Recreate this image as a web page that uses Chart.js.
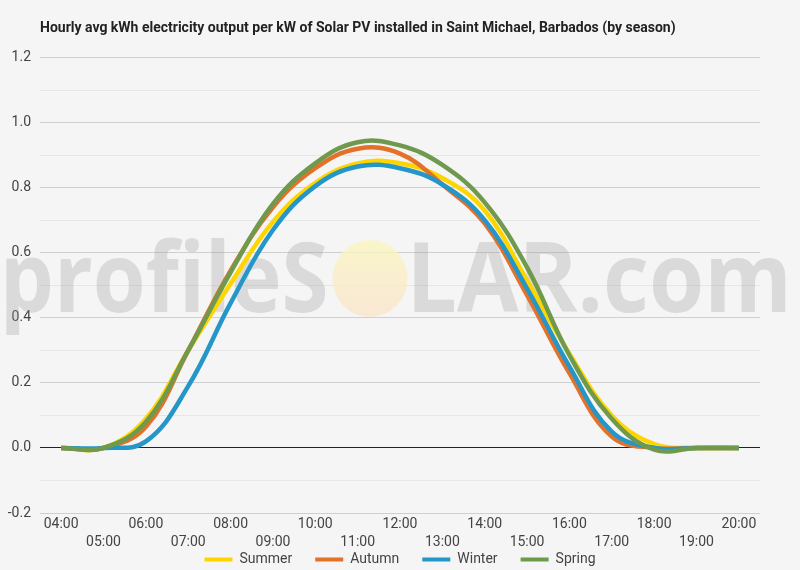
<!DOCTYPE html>
<html>
<head>
<meta charset="utf-8">
<script src="https://cdn.jsdelivr.net/npm/chart.js@4.4.1/dist/chart.umd.min.js"></script>
<style>
  html, body { margin: 0; padding: 0; background: #f5f5f5; }
  #wrap { width: 800px; height: 570px; position: relative; }
</style>
</head>
<body>
<div id="wrap"><canvas id="chart"></canvas></div>
<script>
const titleText = 'Hourly avg kWh electricity output per kW of Solar PV installed in Saint Michael, Barbados (by season)';
const hours = ['04:00','05:00','06:00','07:00','08:00','09:00','10:00','11:00','12:00','13:00','14:00','15:00','16:00','17:00','18:00','19:00','20:00'];
const seriesNames = ['Summer', 'Autumn', 'Winter', 'Spring'];
const seriesColors = ['#FFD500', '#E3712A', '#2596C8', '#6F9A4E'];
const summer = [0, 0, 0.09, 0.30, 0.505, 0.695, 0.815, 0.875, 0.875, 0.83, 0.73, 0.515, 0.29, 0.10, 0.012, 0, 0];
const autumn = [0, 0, 0.065, 0.30, 0.545, 0.74, 0.86, 0.92, 0.905, 0.81, 0.69, 0.47, 0.23, 0.035, 0, 0, 0];
const winter = [0, 0, 0.02, 0.19, 0.445, 0.67, 0.805, 0.865, 0.86, 0.81, 0.70, 0.49, 0.25, 0.05, 0, 0, 0];
const spring = [0, 0, 0.08, 0.30, 0.54, 0.75, 0.875, 0.94, 0.93, 0.87, 0.755, 0.555, 0.285, 0.09, -0.005, 0, 0];
const seriesValues = [summer, autumn, winter, spring];
const seriesOrder = [3, 2, 1, 0];
const yMin = -0.2, yMax = 1.2, yStep = 0.1;

Chart.defaults.font.family = 'Roboto';

function drawFit(ctx, text, x, y, width) {
  const m = ctx.measureText(text);
  const w = m.actualBoundingBoxLeft + m.actualBoundingBoxRight;
  const sx = width / w;
  ctx.save();
  ctx.translate(x + m.actualBoundingBoxLeft * sx, y);
  ctx.scale(sx, 1);
  ctx.fillText(text, 0, 0);
  ctx.restore();
}

const watermark = {
  id: 'watermark',
  beforeDatasetsDraw(chart) {
    const ctx = chart.ctx;
    ctx.save();
    ctx.font = 'bold 96px "Open Sans"';
    ctx.fillStyle = 'rgba(150,150,150,0.29)';
    ctx.textBaseline = 'alphabetic';
    drawFit(ctx, 'profileS', 6, 312, 320);
    drawFit(ctx, 'LAR.com', 414, 312, 372);
    const g = ctx.createLinearGradient(0, 240, 0, 317);
    g.addColorStop(0, 'rgba(250,246,190,0.80)');
    g.addColorStop(1, 'rgba(250,228,205,0.80)');
    ctx.fillStyle = g;
    ctx.beginPath();
    ctx.ellipse(370, 278.5, 37.5, 38.5, 0, 0, Math.PI * 2);
    ctx.fill();
    ctx.restore();
  }
};

// lift the legend row up under the two rows of hour labels
const legendLift = {
  id: 'legendLift',
  afterLayout(chart) {
    const lg = chart.legend;
    if (!lg) return;
    const dy = 24;
    lg.top -= dy;
    lg.bottom -= dy;
  }
};

const datasets = seriesNames.map((name, i) => ({
  label: name,
  data: seriesValues[i],
  borderColor: seriesColors[i],
  backgroundColor: seriesColors[i],
  borderWidth: 4.5,
  pointRadius: 0,
  pointHoverRadius: 0,
  tension: 0.4,
  fill: false,
  order: seriesOrder[i]
}));

new Chart(document.getElementById('chart'), {
  type: 'line',
  data: { labels: hours, datasets },
  plugins: [watermark, legendLift],
  options: {
    responsive: true,
    maintainAspectRatio: false,
    animation: false,
    events: [],
    layout: { padding: { top: 0, left: 0, right: 40, bottom: -30.4 } },
    plugins: {
      title: {
        display: true,
        text: titleText,
        align: 'start',
        fullSize: false,
        color: '#222',
        font: { size: 14, weight: 'bold' },
        padding: { top: 19.6, bottom: 21.2 }
      },
      legend: {
        display: true,
        position: 'bottom',
        fullSize: false,
        labels: {
          boxWidth: 28,
          boxHeight: 4,
          padding: 23,
          color: '#444',
          font: { size: 14 },
          generateLabels: (chart) => chart.data.datasets.map((ds, i) => ({
            text: ds.label,
            fillStyle: ds.borderColor,
            strokeStyle: ds.borderColor,
            lineWidth: 0,
            fontColor: '#444',
            hidden: !chart.isDatasetVisible(i),
            datasetIndex: i
          }))
        }
      },
      tooltip: { enabled: false }
    },
    scales: {
      x: {
        type: 'category',
        offset: true,
        grid: { display: false, drawTicks: false },
        border: { display: false },
        ticks: {
          autoSkip: false,
          maxRotation: 0,
          minRotation: 0,
          padding: 2,
          color: '#444',
          font: { size: 14, lineHeight: 1.3 },
          callback: function (val, idx) {
            const l = this.getLabelForValue(val);
            return idx % 2 === 0 ? [l, ''] : ['', l];
          }
        }
      },
      y: {
        min: yMin,
        max: yMax,
        grid: {
          drawTicks: false,
          lineWidth: 1,
          color: (c) => {
            const v = Math.round(c.tick.value * 10);
            if (v === 0) return '#222';
            return v % 2 === 0 ? '#cfcfcf' : '#e6e6e6';
          }
        },
        border: { display: false },
        afterFit: (s) => { s.width = 40; },
        ticks: {
          stepSize: yStep,
          autoSkip: false,
          padding: 9,
          color: '#444',
          font: { size: 14 },
          callback: (v) => {
            const k = Math.round(v * 10);
            return k % 2 === 0 ? (k / 10).toFixed(1) : '';
          }
        }
      }
    }
  }
});
</script>
</body>
</html>
